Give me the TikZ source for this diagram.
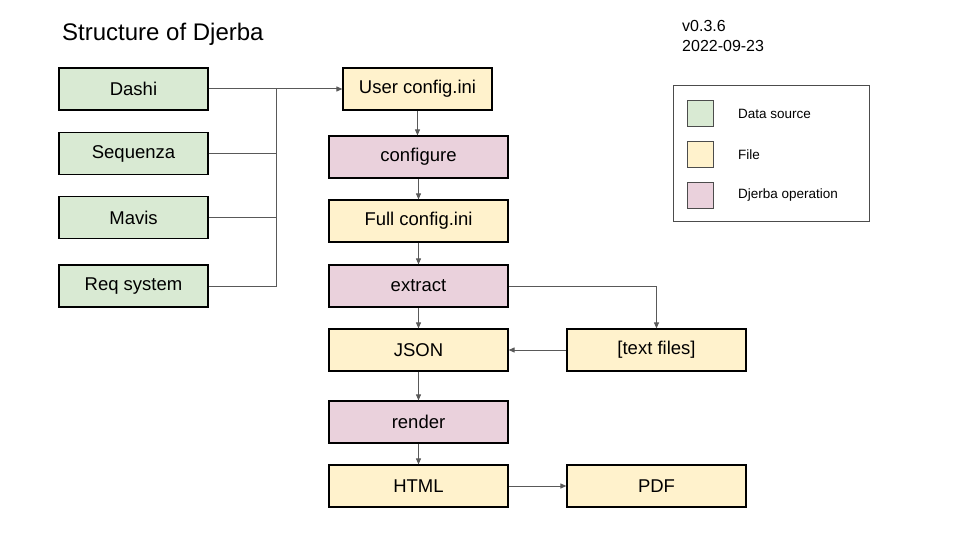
\documentclass[tikz,border=0pt]{standalone}
\usepackage{fontspec}
\setmainfont{Liberation Sans}
\usepackage{xcolor}
\usetikzlibrary{positioning}
\usetikzlibrary{arrows.meta}
\definecolor{srcgreen}{HTML}{D9EAD3}
\definecolor{fileyellow}{HTML}{FFF2CC}
\definecolor{oppink}{HTML}{EAD1DC}
\definecolor{linegray}{HTML}{595959}
\tikzset{box/.style={draw=black, line width=1.2pt, inner sep=0pt,
minimum height=42pt, minimum width=179pt, font=\fontsize{18.5}{21}\selectfont},
src/.style={box, fill=srcgreen, minimum width=149pt},
file/.style={box, fill=fileyellow},
op/.style={box, fill=oppink},
swatch/.style={draw=black!70, line width=1pt, fill=#1, minimum size=26pt, inner sep=0pt},
legtext/.style={anchor=west, inner sep=0pt, font=\fontsize{13.5}{16}\selectfont},
flow/.style={draw=linegray, line width=1pt},
arr/.style={flow, -{Triangle[length=6pt,width=5pt]}}}

\begin{document}
\begin{tikzpicture}[x=1pt, y=-1pt]
				\useasboundingbox (0,0) rectangle (960,540);

				% title and version
				\node[anchor=west, inner sep=0pt, font=\fontsize{24}{28}\selectfont] (title) at (62,34) {Structure of Djerba};
				\node[anchor=west, inner sep=0pt, font=\fontsize{16}{19}\selectfont] (ver) at (682,26) {v0.3.6};
				\node[anchor=west, inner sep=0pt, font=\fontsize{16}{19}\selectfont] (date) at (682,46) {2022-09-23};

				% data sources
				\node[src] (dashi) at (133.5,89) {Dashi};
				\node[src] (seq) at (133.5,153.5) {Sequenza};
				\node[src] (mavis) at (133.5,217.5) {Mavis};
				\node[src] (req) at (133.5,286) {Req system};

				% main column
				\node[file, minimum width=149pt] (user) at (417.5,89) {User config.ini};
				\node[op] (conf) at (418.5,157) {configure};
				\node[file] (full) at (418.5,221) {Full config.ini};
				\node[op] (extr) at (418.5,286) {extract};
				\node[file] (json) at (418.5,350) {JSON};
				\node[op] (rend) at (418.5,422) {render};
				\node[file] (html) at (418.5,486) {HTML};
				\node[file] (txt) at (656.5,350) {[text files]};
				\node[file] (pdf) at (656.5,486) {PDF};

				% legend
				\node[draw=black!70, line width=1pt, minimum width=196pt, minimum height=136pt, inner sep=0pt] (leg) at (771,153.5) {};
				\node[swatch=srcgreen] (sw1) at (700.5,113.5) {};
				\node[swatch=fileyellow, below=14pt of sw1] (sw2) {};
				\node[swatch=oppink, below=14pt of sw2] (sw3) {};
				\node[legtext, right=24pt of sw1] (lab1) {Data source};
				\node[legtext, right=24pt of sw2] (lab2) {File};
				\node[legtext, right=24pt of sw3] (lab3) {Djerba operation};

				% connectors
				\coordinate (bus) at (276,89);
				\draw[arr] (dashi) -- (user);
				\draw[flow] (seq) -| (bus);
				\draw[flow] (mavis) -| (bus);
				\draw[flow] (req) -| (bus);
				\draw[arr] (user) -- (user |- conf.north);
				\draw[arr] (conf) -- (full);
				\draw[arr] (full) -- (extr);
				\draw[arr] (extr) -- (json);
				\draw[arr] (extr) -| (txt);
				\draw[arr] (txt) -- (json);
				\draw[arr] (json) -- (rend);
				\draw[arr] (rend) -- (html);
				\draw[arr] (html) -- (pdf);
\end{tikzpicture}
\end{document}
